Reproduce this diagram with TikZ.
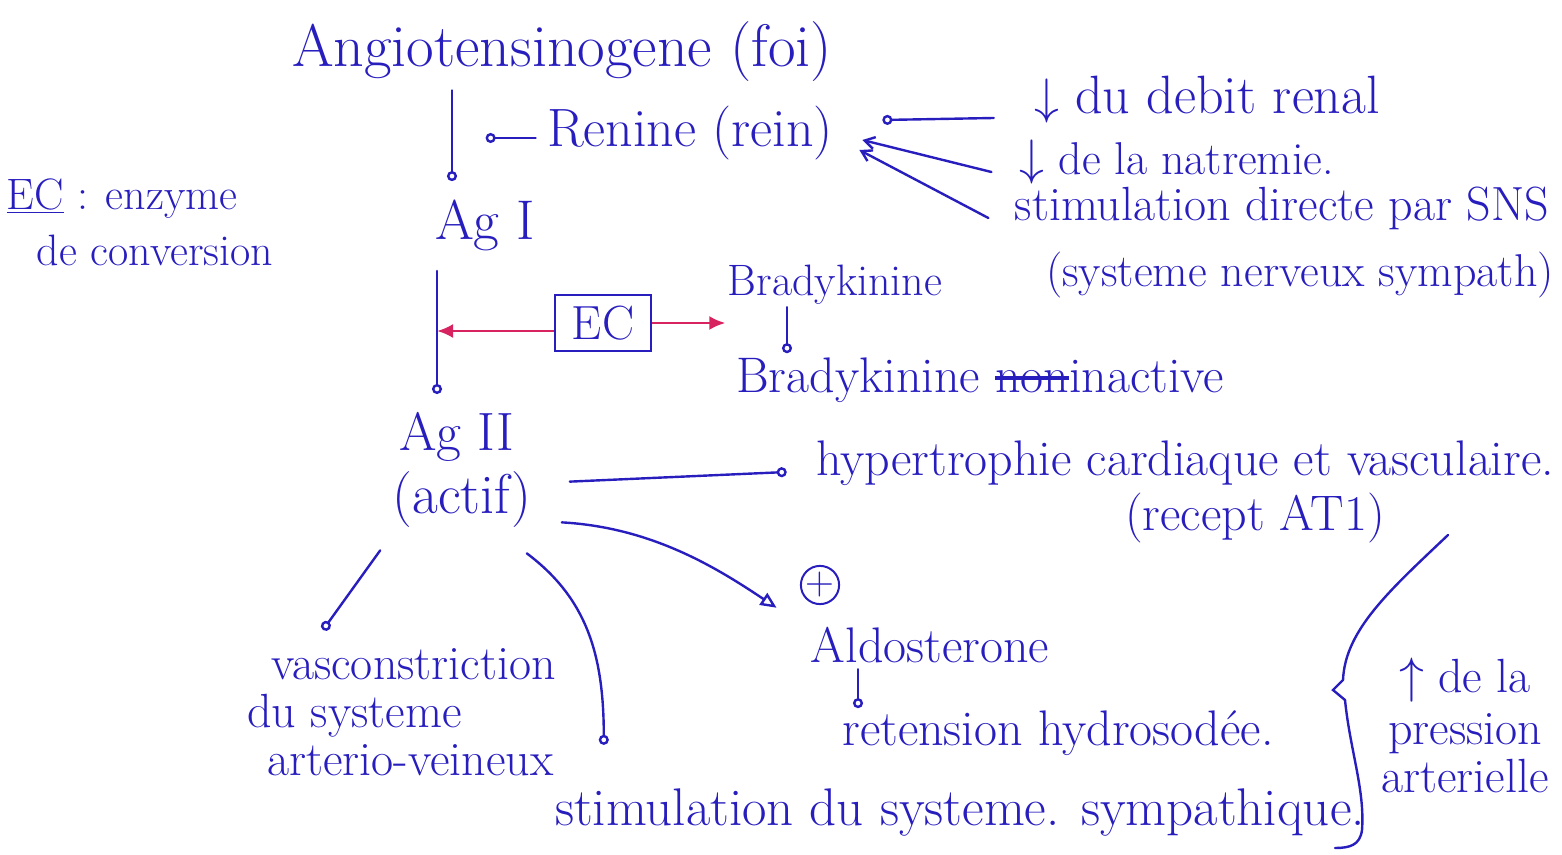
\documentclass[tikz,border=0pt]{standalone}
\usepackage{tikz}
\usetikzlibrary{arrows.meta,positioning,calc}
\definecolor{ink}{RGB}{40,30,190}
\definecolor{inkred}{RGB}{215,35,95}
\newcommand\barre[1]{\setbox0\hbox{#1}\rlap{\rule[0.25em]{\wd0}{0.08em}}\box0}
\tikzset{
  txt/.style    = {text=ink, font=\fontsize{#1}{#1}\selectfont, inner sep=1pt},
  txt/.default  = 24,
  pen/.style    = {draw=ink, line width=1.2pt, line cap=round},
  pt/.style     = {pen, -{Circle[open, length=5pt, width=5pt]}},
  barb/.style   = {pen, -{Straight Barb[length=5pt, width=6pt]}},
  tri/.style    = {pen, -{Triangle[open, length=8pt, width=7pt]}},
  ecbox/.style  = {txt=24, draw=ink, line width=1.2pt, minimum width=48pt, minimum height=28pt},
  ecarrow/.style = {draw=inkred, line width=1.3pt, -{Latex[length=8pt, width=7pt]}}
}
\begin{document}
\begin{tikzpicture}[x=0.5pt, y=-0.5pt]
\useasboundingbox (0,0) rectangle (1562,855);

% cascade
\node[txt=30] (ang) at (562,52) {Angiotensinogene (foi)};
\node[txt=27] (ren) at (690,133) {Renine (rein)};
\node[txt=28] (agi) at (485,225) {Ag I};
\node[ecbox] (ec) at (603,323) {EC};
\node[txt=27] (agii) at (457,437) {Ag II};
\node[txt=28] (actif) at (462,500) {(actif)};

% renine stimuli
\node[txt=27] (debit) at (1207,100) {$\downarrow$ du debit renal};
\node[txt=23] (natr) at (1177,162) {$\downarrow$ de la natremie.};
\node[txt=24] (sns) at (1282,208) {stimulation directe par SNS};
\node[txt=23] (snsb) at (1300,275) {(systeme nerveux sympath)};

% legend
\node[txt=22, align=left] (ecdef) at (140,222) {\underline{EC} : enzyme\\[6pt]\hspace*{15pt}de conversion};

% bradykinine
\node[txt=22] (brady) at (835,285) {Bradykinine};
\node[txt=25] (bradyi) at (980,380) {Bradykinine \barre{non}inactive};

% effets de Ag II
\node[txt=25] (hyper) at (1185,463) {hypertrophie cardiaque et vasculaire.};
\node[txt=25] (recept) at (1255,518) {(recept AT1)};
\node[txt=20, draw=ink, circle, line width=1pt, minimum size=17pt, inner sep=0pt] (plus) at (820,585) {+};
\node[txt=25] (aldo) at (930,645) {Aldosterone};
\node[txt=25] (reten) at (1058,733) {retension hydrosodée.};
\node[txt=24, align=left, anchor=west] (vaso) at (245,712) {\hspace*{12pt}vasconstriction\\du systeme\\\hspace*{10pt}arterio-veineux};
\node[txt=26.5] (stim) at (960,812) {stimulation du systeme. sympathique.};
\node[txt=24, align=center] (pa) at (1465,725) {$\uparrow$ de la\\[2pt]pression\\arterielle};

% connectors
\draw[pt] ($(ang.south)+(-110,6)$) coordinate (g1) -- ($(g1 |- agi.north)+(0,-16)$);
\draw[pen, {Circle[open, length=5pt, width=5pt]}-] ($(ren.west)+(-59,5)$) -- ($(ren.west)+(-9,5)$);
\draw[pt] ($(debit.west)+(-38,18)$) -- ($(ren.east)+(47,-13)$);
\draw[barb] ($(natr.west)+(-26,10)$) -- ($(ren.east)+(27,7)$);
\draw[barb] ($(sns.west)+(-24,10)$) -- ($(ren.east)+(24,17)$);
\draw[pt] ($(agi.south)+(-48,18)$) coordinate (ecl) -- ($(ecl |- agii.north)+(0,-16)$);
\draw[ecarrow] ([yshift=-4pt]ec.west) -- ([yshift=-4pt]ec.west -| ecl);
\draw[ecarrow] (ec.east) -- (ec.east -| brady.west);
\draw[pt] ($(brady.south)+(-48,0)$) coordinate (b1) -- ($(b1 |- bradyi.north)+(0,-2)$);
\draw[pt] ($(actif.north east)+(36,12)$) -- ($(hyper.west)+(-27,9)$);
\draw[tri] ($(actif.south east)+(28,-8)$) .. controls +(90,5) and +(-60,-40) .. ($(aldo.north west)+(-32,-17)$);
\draw[pt] ($(aldo.south)+(-72,4)$) coordinate (a1) -- (a1 |- reten.north);
\draw[pt] ($(actif.south west)+(-10,20)$) -- ($(vaso.north west)+(78,-16)$);
\draw[pt] ($(actif.south east)+(-7,23)$) .. controls +(60,45) and +(0,-90) .. ($(stim.north west)+(51,-41)$);

% accolade
\draw[pen] (1448,535) .. controls (1390,590) and (1345,630) .. (1343,680) -- (1333,690) -- (1345,700)
  .. controls (1350,750) and (1365,790) .. (1362,830) .. controls (1360,845) and (1350,848) .. (1335,848);
\end{tikzpicture}
\end{document}
